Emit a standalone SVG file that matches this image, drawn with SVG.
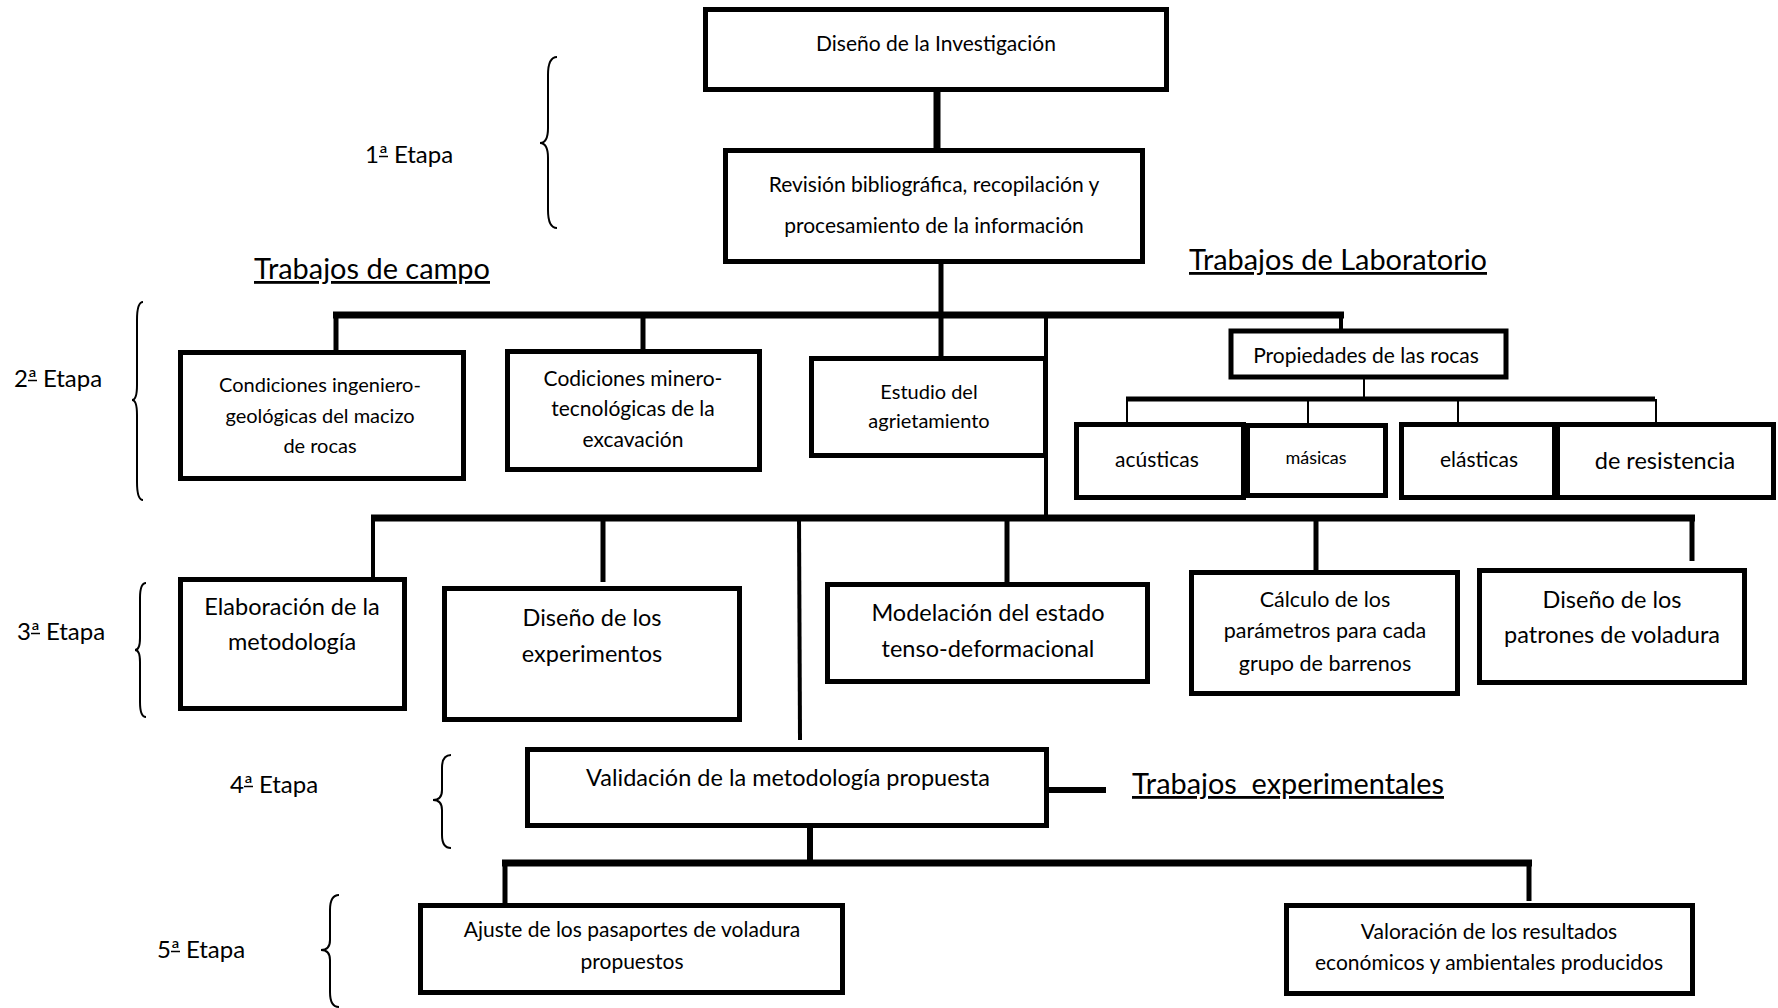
<svg xmlns="http://www.w3.org/2000/svg" width="1778" height="1008" viewBox="0 0 1778 1008">
<style>
.box{fill:#fff;stroke:#000;stroke-width:5}
.t{font-family:Lato,"Liberation Sans",sans-serif;fill:#000;text-anchor:middle}
.lbl{font-family:Lato,"Liberation Sans",sans-serif;fill:#000;font-size:24px}
.ul{stroke:#000;stroke-width:1.5}
.hd{font-family:Lato,"Liberation Sans",sans-serif;fill:#000;font-size:28px;text-decoration:underline}
.c{stroke:#000;fill:none}
.br{stroke:#000;fill:none;stroke-width:2}
</style>
<rect width="1778" height="1008" fill="#fff"/>
<g id="connectors">
<line class="c" x1="937" y1="92" x2="937" y2="148" stroke-width="7"/>
<line class="c" x1="941" y1="264" x2="941" y2="357" stroke-width="5"/>
<line class="c" x1="333" y1="315" x2="1344" y2="315" stroke-width="7"/>
<line class="c" x1="336" y1="312" x2="336" y2="351" stroke-width="5"/>
<line class="c" x1="643" y1="312" x2="643" y2="350" stroke-width="5"/>
<line class="c" x1="1341" y1="312" x2="1341" y2="330" stroke-width="4"/>
<line class="c" x1="1046" y1="315" x2="1046" y2="519" stroke-width="4"/>
<line class="c" x1="1364" y1="379" x2="1364" y2="399" stroke-width="2"/>
<line class="c" x1="1126" y1="399" x2="1655" y2="399" stroke-width="5"/>
<line class="c" x1="1127" y1="399" x2="1127" y2="423" stroke-width="2"/>
<line class="c" x1="1308" y1="399" x2="1308" y2="424" stroke-width="2"/>
<line class="c" x1="1458" y1="399" x2="1458" y2="423" stroke-width="2"/>
<line class="c" x1="1656" y1="399" x2="1656" y2="423" stroke-width="2"/>
<line class="c" x1="371" y1="518" x2="1695" y2="518" stroke-width="7"/>
<line class="c" x1="373" y1="516" x2="373" y2="578" stroke-width="4"/>
<line class="c" x1="603" y1="518" x2="603" y2="582" stroke-width="5"/>
<line class="c" x1="799" y1="518" x2="800" y2="740" stroke-width="4"/>
<line class="c" x1="1007" y1="518" x2="1007" y2="583" stroke-width="5"/>
<line class="c" x1="1316" y1="518" x2="1316" y2="570" stroke-width="5"/>
<line class="c" x1="1692" y1="518" x2="1692" y2="561" stroke-width="5"/>
<line class="c" x1="1049" y1="790" x2="1106" y2="790" stroke-width="6"/>
<line class="c" x1="810" y1="828" x2="810" y2="863" stroke-width="6"/>
<line class="c" x1="502" y1="863" x2="1532" y2="863" stroke-width="7"/>
<line class="c" x1="505" y1="863" x2="505" y2="904" stroke-width="5"/>
<line class="c" x1="1529" y1="863" x2="1529" y2="901" stroke-width="5"/>
</g>
<g id="braces">
<path class="br" d="M557,57 Q548,57 548,75 L548,128 Q548,143 540,143 Q548,143 548,158 L548,210 Q548,228 557,228"/>
<path class="br" d="M143,302 Q137,302 137,320 L137,385 Q137,400 132,400 Q137,400 137,415 L137,482 Q137,500 143,500"/>
<path class="br" d="M146,583 Q140,583 140,598 L140,638 Q140,650 135,650 Q140,650 140,662 L140,702 Q140,717 146,717"/>
<path class="br" d="M451,755 Q442,755 442,768 L442,790 Q442,800 433,800 Q442,800 442,810 L442,835 Q442,848 451,848"/>
<path class="br" d="M339,895 Q330,895 330,910 L330,940 Q330,950 321,950 Q330,950 330,960 L330,992 Q330,1007 339,1007"/>
</g>
<g id="labels">
<text class="lbl" x="365" y="163">1ª Etapa</text>
<line class="ul" x1="379" y1="156.5" x2="388" y2="156.5"/>
<text class="lbl" x="14" y="387">2ª Etapa</text>
<line class="ul" x1="28" y1="380.5" x2="37" y2="380.5"/>
<text class="lbl" x="17" y="640">3ª Etapa</text>
<line class="ul" x1="31" y1="633.5" x2="40" y2="633.5"/>
<text class="lbl" x="230" y="793">4ª Etapa</text>
<line class="ul" x1="244" y1="786.5" x2="253" y2="786.5"/>
<text class="lbl" x="157" y="958">5ª Etapa</text>
<line class="ul" x1="171" y1="951.5" x2="180" y2="951.5"/>
<text class="hd" x="254" y="279" textLength="236" lengthAdjust="spacingAndGlyphs">Trabajos de campo</text>
<text class="hd" x="1189" y="270" textLength="298" lengthAdjust="spacingAndGlyphs">Trabajos de Laboratorio</text>
<text class="hd" x="1132" y="794" xml:space="preserve" textLength="312" lengthAdjust="spacingAndGlyphs">Trabajos  experimentales</text>
</g>
<g id="n1"><rect class="box" x="705.5" y="9.5" width="461" height="80"/><text class="t" x="936" y="51" font-size="21">Diseño de la Investigación</text></g>
<g id="n2"><rect class="box" x="725.5" y="150.5" width="417" height="111"/><text class="t" x="934" y="192" font-size="21">Revisión bibliográfica, recopilación y</text><text class="t" x="934" y="233" font-size="21">procesamiento de la información</text></g>
<g id="n3"><rect class="box" x="180.5" y="352.5" width="283" height="126"/><text class="t" x="320" y="392" font-size="20">Condiciones ingeniero-</text><text class="t" x="320" y="423" font-size="20">geológicas del macizo</text><text class="t" x="320" y="453" font-size="20">de rocas</text></g>
<g id="n4"><rect class="box" x="507.5" y="351.5" width="252" height="118"/><text class="t" x="633" y="386" font-size="21">Codiciones minero-</text><text class="t" x="633" y="416" font-size="21">tecnológicas de la</text><text class="t" x="633" y="447" font-size="21">excavación</text></g>
<g id="n5"><rect class="box" x="811.5" y="358.5" width="234" height="97"/><text class="t" x="929" y="399" font-size="20">Estudio del</text><text class="t" x="929" y="428" font-size="20">agrietamiento</text></g>
<g id="n6"><rect class="box" x="1231" y="331" width="275" height="46" stroke-width="4"/><text class="t" x="1366" y="363" font-size="21">Propiedades de las rocas</text></g>
<g id="n7"><rect class="box" x="1076.5" y="424.5" width="167" height="73"/><text class="t" x="1157" y="467" font-size="21">acústicas</text></g>
<g id="n8"><rect class="box" x="1247.5" y="425.5" width="138" height="70"/><text class="t" x="1316" y="464" font-size="18">másicas</text></g>
<g id="n9"><rect class="box" x="1401.5" y="424.5" width="153" height="73"/><text class="t" x="1479" y="467" font-size="21">elásticas</text></g>
<g id="n10"><rect class="box" x="1557.5" y="424.5" width="216" height="73"/><text class="t" x="1665" y="469" font-size="23.5">de resistencia</text></g>
<g id="n11"><rect class="box" x="180.5" y="579.5" width="224" height="129"/><text class="t" x="292" y="615" font-size="23.5">Elaboración de la</text><text class="t" x="292" y="650" font-size="23.5">metodología</text></g>
<g id="n12"><rect class="box" x="444.5" y="588.5" width="295" height="131"/><text class="t" x="592" y="626" font-size="23.5">Diseño de los</text><text class="t" x="592" y="662" font-size="23.5">experimentos</text></g>
<g id="n13"><rect class="box" x="827.5" y="584.5" width="320" height="97"/><text class="t" x="988" y="621" font-size="23.5">Modelación del estado</text><text class="t" x="988" y="657" font-size="23.5">tenso-deformacional</text></g>
<g id="n14"><rect class="box" x="1191.5" y="572.5" width="266" height="121"/><text class="t" x="1325" y="607" font-size="21.5">Cálculo de los</text><text class="t" x="1325" y="638" font-size="21.5">parámetros para cada</text><text class="t" x="1325" y="671" font-size="21.5">grupo de barrenos</text></g>
<g id="n15"><rect class="box" x="1479.5" y="570.5" width="265" height="112"/><text class="t" x="1612" y="608" font-size="23.5">Diseño de los</text><text class="t" x="1612" y="643" font-size="23.5">patrones de voladura</text></g>
<g id="n16"><rect class="box" x="527.5" y="749.5" width="519" height="76"/><text class="t" x="788" y="786" font-size="23.5">Validación de la metodología propuesta</text></g>
<g id="n17"><rect class="box" x="420.5" y="905.5" width="422" height="87"/><text class="t" x="632" y="937" font-size="21">Ajuste de los pasaportes de voladura</text><text class="t" x="632" y="969" font-size="21">propuestos</text></g>
<g id="n18"><rect class="box" x="1286.5" y="905.5" width="406" height="88"/><text class="t" x="1489" y="939" font-size="21">Valoración de los resultados</text><text class="t" x="1489" y="970" font-size="21">económicos y ambientales producidos</text></g>
</svg>
